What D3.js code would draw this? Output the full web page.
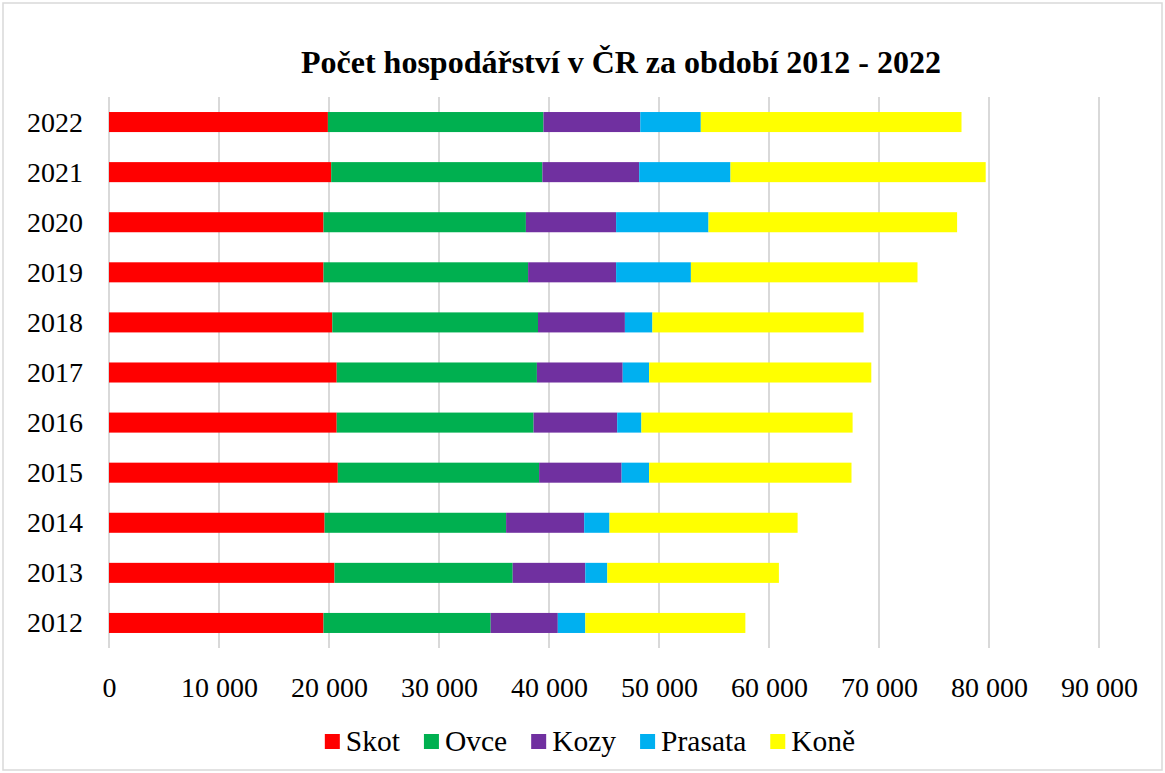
<!DOCTYPE html>
<html>
<head>
<meta charset="utf-8">
<script src="https://cdn.jsdelivr.net/npm/d3@7"></script>
<style>
  body { margin: 0; background: #fff; }
  text { font-family: "Liberation Serif", "Times New Roman", serif; fill: #000; }
</style>
</head>
<body>
<div id="chart"></div>
<script>
// data (počet hospodářství)
const years = ["2012", "2013", "2014", "2015", "2016", "2017", "2018", "2019", "2020", "2021", "2022"];
const seriesNames = ["Skot", "Ovce", "Kozy", "Prasata", "Koně"];
const skot    = [19500, 20500, 19600, 20800, 20700, 20700, 20300, 19500, 19500, 20200, 19900];
const ovce    = [15200, 16200, 16500, 18300, 17900, 18200, 18700, 18600, 18400, 19200, 19600];
const kozy    = [6100, 6600, 7100, 7500, 7600, 7800, 7900, 8000, 8200, 8800, 8800];
const prasata = [2500, 2000, 2300, 2500, 2200, 2400, 2500, 6800, 8400, 8300, 5500];
const kone    = [14550, 15600, 17100, 18400, 19200, 20200, 19200, 20600, 22600, 23200, 23700];
const colors = ["#FF0000", "#00B050", "#7030A0", "#00B0F0", "#FFFF00"];
const xTicks = [0, 10000, 20000, 30000, 40000, 50000, 60000, 70000, 80000, 90000];

const W = 1165, H = 773;
const plot = { left: 109, right: 1099, top: 97, bottom: 648 };

const rows = years.map((y, i) => ({
  year: y, Skot: skot[i], Ovce: ovce[i], Kozy: kozy[i], Prasata: prasata[i], "Koně": kone[i]
}));

const svg = d3.select("#chart").append("svg")
    .attr("width", W)
    .attr("height", H);

// chart frame
svg.append("rect")
  .attr("x", 3).attr("y", 3)
  .attr("width", W - 6).attr("height", H - 6)
  .attr("fill", "#fff")
  .attr("stroke", "#d9d9d9")
  .attr("stroke-width", 1.5);

const x = d3.scaleLinear().domain([0, 90000]).range([plot.left, plot.right]);
const y = d3.scaleBand()
  .domain(years.slice().reverse())
  .range([plot.top, plot.bottom])
  .paddingInner(0.6)
  .paddingOuter(0.3);

// vertical gridlines
svg.append("g")
  .selectAll("line")
  .data(xTicks)
  .join("line")
    .attr("x1", d => x(d)).attr("x2", d => x(d))
    .attr("y1", plot.top).attr("y2", plot.bottom)
    .attr("stroke", "#d9d9d9")
    .attr("stroke-width", 2);

// stacked bars
const stack = d3.stack().keys(seriesNames);
const layers = stack(rows);

svg.append("g")
  .selectAll("g")
  .data(layers)
  .join("g")
    .attr("fill", (d, i) => colors[i])
  .selectAll("rect")
  .data(d => d)
  .join("rect")
    .attr("x", d => x(d[0]))
    .attr("width", d => x(d[1]) - x(d[0]))
    .attr("y", d => y(d.data.year))
    .attr("height", y.bandwidth());

// x axis labels
const fmt = d => d3.format(",")(d).replace(/,/g, " ");
const xAxis = svg.append("g")
  .attr("transform", "translate(0," + 697 + ")")
  .call(d3.axisBottom(x).tickValues(xTicks).tickSize(0).tickPadding(0).tickFormat(fmt));
xAxis.select(".domain").remove();
xAxis.selectAll("text")
  .attr("dy", 0)
  .style("font-family", "'Liberation Serif', 'Times New Roman', serif")
  .style("font-size", "28px")
  .attr("fill", "#000");

// y axis labels
const yAxis = svg.append("g")
  .attr("transform", "translate(" + 83 + ",0)")
  .call(d3.axisLeft(y).tickSize(0).tickPadding(0));
yAxis.select(".domain").remove();
yAxis.selectAll("text")
  .attr("dy", "0.34em")
  .style("font-family", "'Liberation Serif', 'Times New Roman', serif")
  .style("font-size", "28px")
  .attr("fill", "#000");

// title
svg.append("text")
  .attr("x", 621)
  .attr("y", 73)
  .attr("text-anchor", "middle")
  .style("font-size", "32px")
  .style("font-weight", "bold")
  .text("Počet hospodářství v ČR za období 2012 - 2022");

// legend
const legend = svg.append("g");
let lx = 0;
seriesNames.forEach((name, i) => {
  const item = legend.append("g").attr("transform", "translate(" + lx + ",0)");
  item.append("rect")
    .attr("x", 0).attr("y", -17)
    .attr("width", 15).attr("height", 15)
    .attr("fill", colors[i]);
  const t = item.append("text")
    .attr("x", 21).attr("y", 0)
    .style("font-size", "29.5px")
    .text(name);
  lx += 21 + t.node().getComputedTextLength() + 24;
});
lx -= 24;
legend.attr("transform", "translate(" + (590 - lx / 2) + "," + 751 + ")");
</script>
</body>
</html>
